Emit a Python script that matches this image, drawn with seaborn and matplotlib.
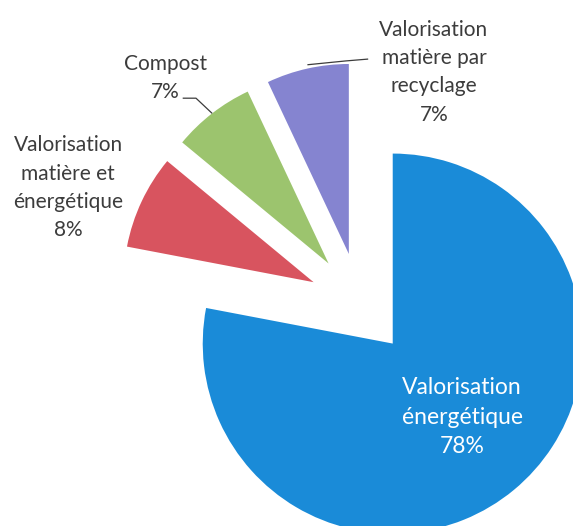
import numpy as np
import matplotlib
matplotlib.use("Agg")
import matplotlib.pyplot as plt
import seaborn as sns

categories = ["Valorisation\nénergétique", "Valorisation\nmatière et\nénergétique",
              "Compost", "Valorisation\nmatière par\nrecyclage"]
values = [78, 8, 7, 7]
pct_labels = ["78%", "8%", "7%", "7%"]
colors = ["#1a8bd8", "#d8545f", "#9cc46e", "#8584d0"]

sns.set_style("white")
plt.rcParams['font.family'] = ['Lato', 'DejaVu Sans']

fig = plt.figure(figsize=(5.73, 5.26), dpi=100)
ax = fig.add_axes([0, 0, 1, 1])
wedges, _ = ax.pie(values, colors=colors, startangle=90, counterclock=False,
                   explode=[0.27] * len(values), radius=1.0,
                   wedgeprops=dict(linewidth=0))
ax.set_aspect('equal')
ax.set_xlim(-1.895, 1.121)
ax.set_ylim(-1.168, 1.600)
ax.axis('off')

txt_kw = dict(ha='center', va='center', fontsize=15, linespacing=1.52)
dark = '#3c3c3c'
# blue label inside
ax.text(0.537, -0.595, categories[0] + "\n" + pct_labels[0], color='white',
        **{**txt_kw, 'fontsize': 16.5, 'linespacing': 1.5})
# red
ax.text(-1.537, 0.611, categories[1] + "\n" + pct_labels[1], color=dark, **txt_kw)
# green
ax.text(-1.026, 1.189, categories[2] + "\n" + pct_labels[2], color=dark, **txt_kw)
# purple
ax.text(0.389, 1.221, categories[3] + "\n" + pct_labels[3], color=dark, **txt_kw)

def arc_mid(w):
    cx, cy = w.center
    t = np.deg2rad((w.theta1 + w.theta2) / 2)
    return cx + w.r * np.cos(t), cy + w.r * np.sin(t)

# green leader
gx, gy = arc_mid(wedges[2])
ax.plot([gx, gx - 0.085, gx - 0.155], [gy, gy + 0.08, gy + 0.08],
        color=dark, lw=0.9, solid_capstyle='butt')
# purple leader
px, py = arc_mid(wedges[3])
ax.plot([px, px + 0.2, px + 0.32], [py + 0.02, py + 0.04, py + 0.05],
        color=dark, lw=0.9, solid_capstyle='butt')

fig.savefig("out.png", dpi=100, facecolor='white')
